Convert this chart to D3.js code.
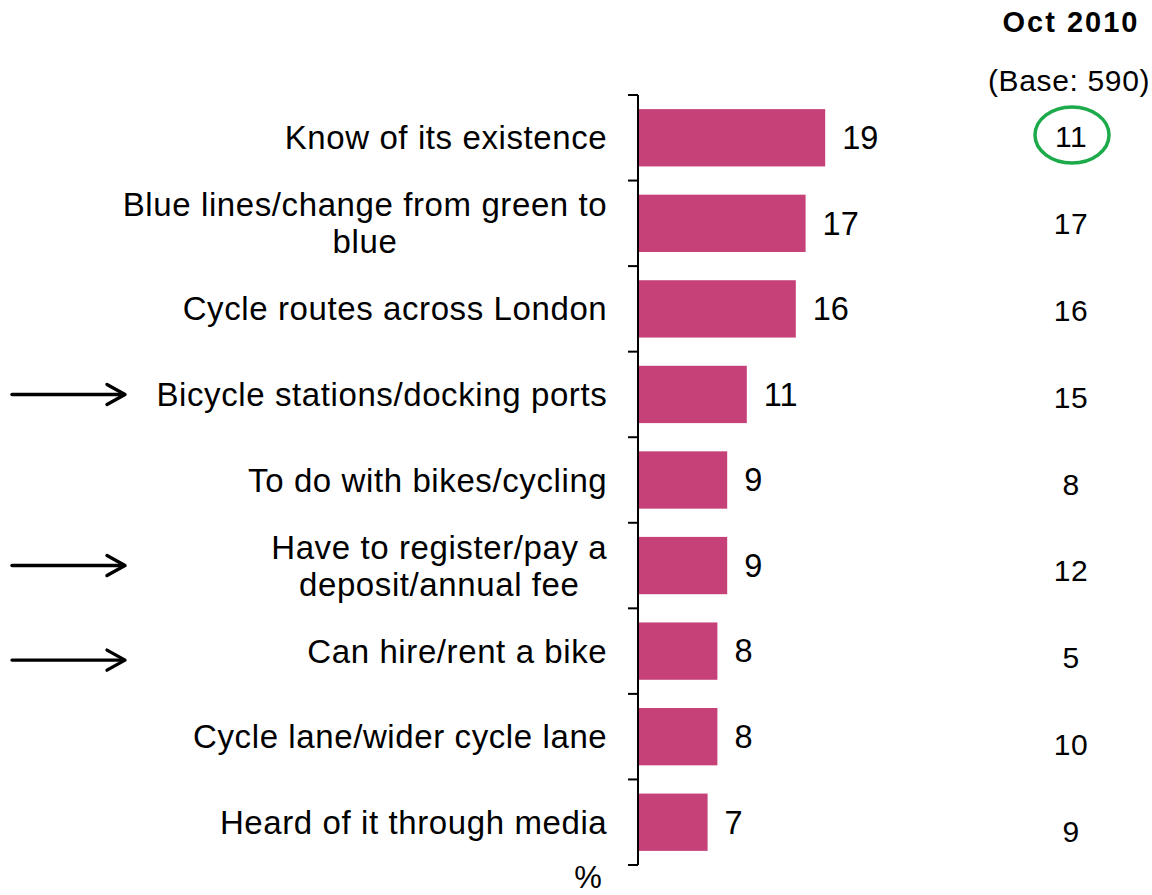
<!DOCTYPE html>
<html>
<head>
<meta charset="utf-8">
<script src="https://cdn.jsdelivr.net/npm/d3@7"></script>
<style>
  html, body { margin: 0; padding: 0; background: #fff; }
  svg { display: block; font-family: "Liberation Sans", Arial, sans-serif; }
</style>
</head>
<body>
<svg id="chart" width="1152" height="895"></svg>
<script>
const categories = [
  "Know of its existence",
  "Blue lines/change from green to\nblue",
  "Cycle routes across London",
  "Bicycle stations/docking ports",
  "To do with bikes/cycling",
  "Have to register/pay a\ndeposit/annual fee",
  "Can hire/rent a bike",
  "Cycle lane/wider cycle lane",
  "Heard of it through media"
];
const currentValues = [19, 17, 16, 11, 9, 9, 8, 8, 7];
const oct2010Values = [11, 17, 16, 15, 8, 12, 5, 10, 9];
const arrowRows = ["Bicycle stations/docking ports", "Have to register/pay a\ndeposit/annual fee", "Can hire/rent a bike"];
const circledRows = ["Know of its existence"];
const headerTitle = "Oct 2010";
const headerBase = "(Base: 590)";
const unitLabel = "%";

const svg = d3.select("#chart");
const barColor = "#C64178";

const y = d3.scaleBand().domain(categories).range([95, 865])
  .paddingInner(0.33).paddingOuter(0.165);
const step = y.step();
const x = d3.scaleLinear().domain([0, 20]).range([639, 835]);
const yR = d3.scaleBand().domain(categories).range([93.6, 874.4]).padding(0);

// bars
svg.append("g").selectAll("rect").data(categories).join("rect")
  .attr("x", x(0))
  .attr("y", d => y(d))
  .attr("width", (d, i) => x(currentValues[i]) - x(0))
  .attr("height", y.bandwidth())
  .attr("fill", barColor);

// axis line & ticks
const axisG = svg.append("g");
axisG.append("line").attr("x1", 638).attr("x2", 638).attr("y1", 95).attr("y2", 865)
  .attr("stroke", "#000").attr("stroke-width", 2);
axisG.selectAll("line.tick").data(d3.range(categories.length + 1)).join("line")
  .attr("class", "tick")
  .attr("x1", 628).attr("x2", 638)
  .attr("y1", i => 95 + i * step).attr("y2", i => 95 + i * step)
  .attr("stroke", "#000").attr("stroke-width", 2);

// category labels
const fs = 33, lh = 37;
const labG = svg.append("g");
categories.forEach((c, i) => {
  const lines = c.split("\n");
  const cy = y(c) + y.bandwidth() / 2;
  const t = labG.append("text")
    .attr("font-size", fs).attr("fill", "#000")
    .attr("letter-spacing", 0.6)
    .attr("text-anchor", "middle");
  lines.forEach((ln, j) => {
    t.append("tspan").attr("x", 0)
      .attr("y", cy + (j - (lines.length - 1) / 2) * lh)
      .attr("dy", "0.35em").text(ln);
  });
  const w = t.node().getBBox().width;
  t.selectAll("tspan").attr("x", 607 - w / 2 + 0.3);
});

// value labels
svg.append("g").selectAll("text").data(categories).join("text")
  .attr("x", (d, i) => x(currentValues[i]) + 17)
  .attr("y", d => y(d) + y.bandwidth() / 2)
  .attr("dy", "0.35em")
  .attr("font-size", 32.5)
  .text((d, i) => currentValues[i]);

// right column
svg.append("text").attr("x", 1071).attr("y", 22).attr("dy", "0.35em")
  .attr("text-anchor", "middle").attr("font-size", 29).attr("font-weight", "bold")
  .attr("letter-spacing", 2)
  .text(headerTitle);
svg.append("text").attr("x", 1069).attr("y", 80).attr("dy", "0.35em")
  .attr("text-anchor", "middle").attr("font-size", 30)
  .attr("letter-spacing", 0.65)
  .text(headerBase);
svg.append("g").selectAll("text").data(categories).join("text")
  .attr("x", 1071)
  .attr("y", d => yR(d) + yR.bandwidth() / 2)
  .attr("dy", "0.35em")
  .attr("text-anchor", "middle")
  .attr("font-size", 30)
  .attr("letter-spacing", 0.5)
  .text((d, i) => oct2010Values[i]);

svg.append("g").selectAll("ellipse").data(circledRows).join("ellipse")
  .attr("cx", 1072)
  .attr("cy", d => yR(d) + yR.bandwidth() / 2 - 2)
  .attr("rx", 37).attr("ry", 28)
  .attr("fill", "none").attr("stroke", "#1DAA4B").attr("stroke-width", 3.5);

// arrows
const arrowOffsets = [0, 0, 9];
const arrG = svg.append("g").attr("stroke", "#000").attr("stroke-width", 3.4)
  .attr("fill", "none").attr("stroke-linecap", "round").attr("stroke-linejoin", "round");
arrowRows.forEach((r, i) => {
  const ay = y(r) + y.bandwidth() / 2 + arrowOffsets[i];
  arrG.append("line").attr("x1", 12).attr("x2", 124).attr("y1", ay).attr("y2", ay);
  arrG.append("path").attr("d", `M${107},${ay - 10} L${125},${ay} L${107},${ay + 10}`);
});

// unit label
svg.append("text").attr("x", 588).attr("y", 888)
  .attr("text-anchor", "middle").attr("font-size", 31).text(unitLabel);
</script>
</body>
</html>
